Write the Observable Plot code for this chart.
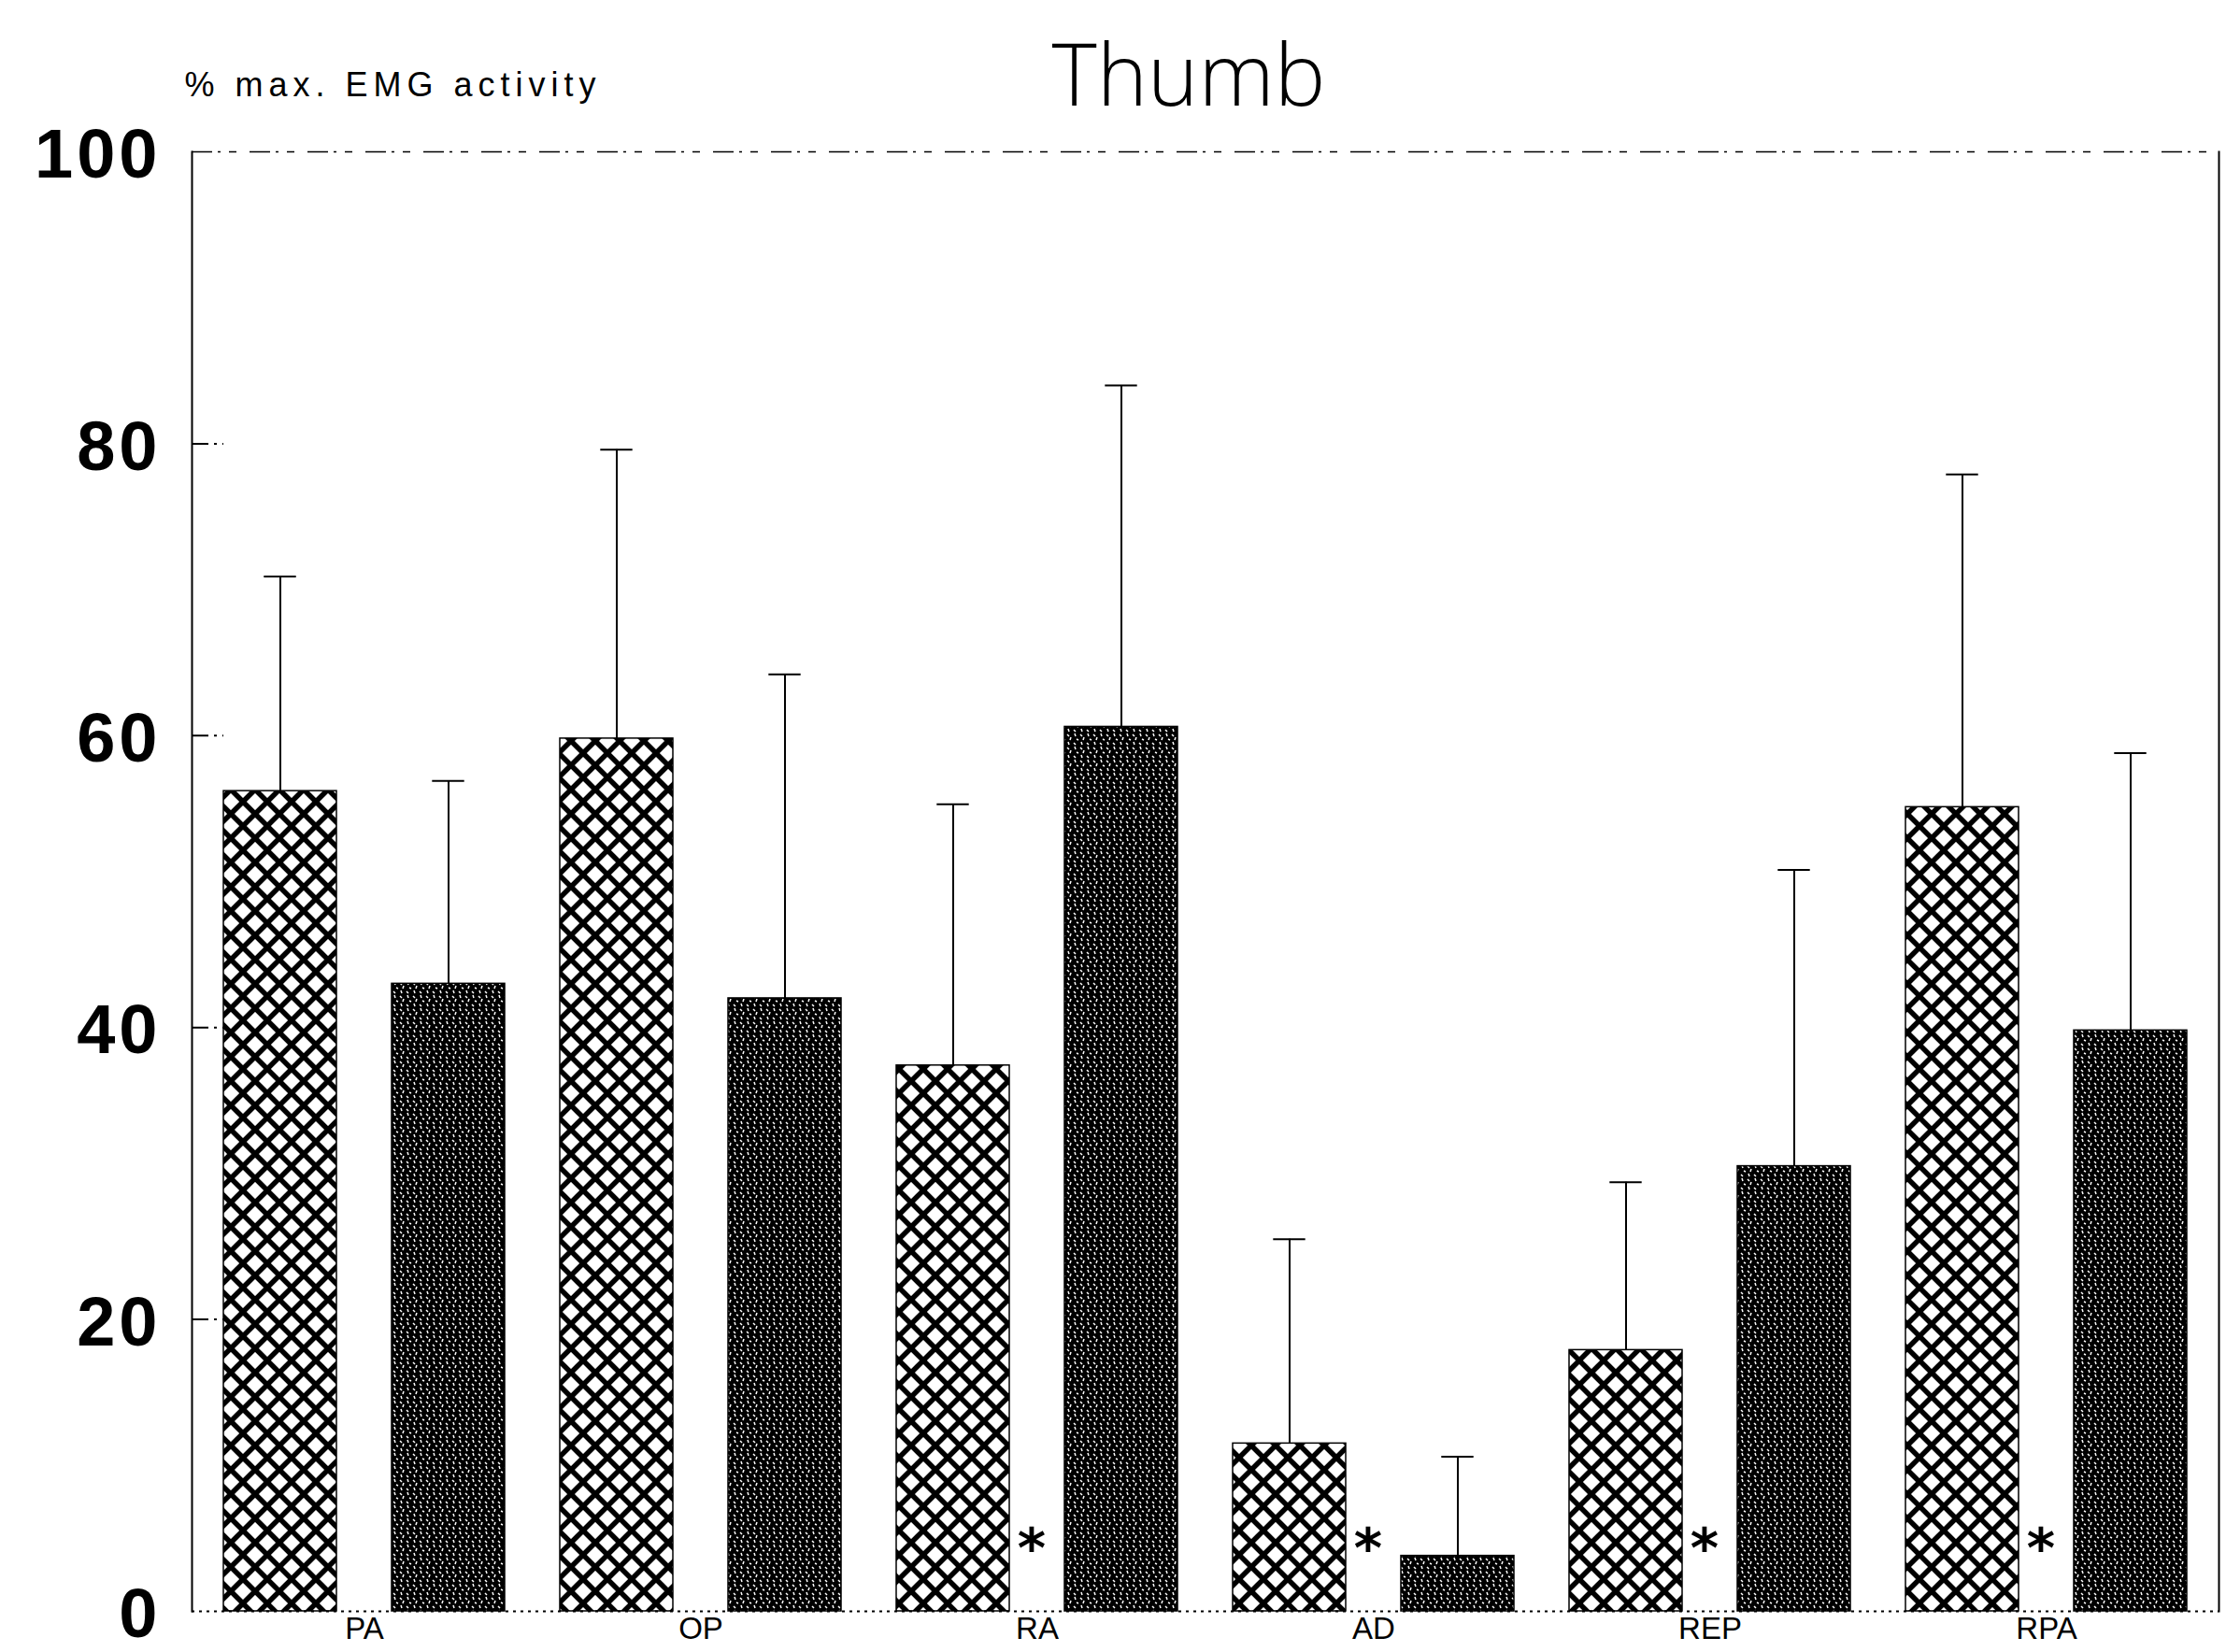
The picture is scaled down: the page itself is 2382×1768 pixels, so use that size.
<!DOCTYPE html>
<html><head><meta charset="utf-8">
<script src="https://cdn.jsdelivr.net/npm/d3@7"></script>
<script src="https://cdn.jsdelivr.net/npm/@observablehq/plot@0.6"></script>
<style>html,body{margin:0;padding:0;background:#fff;overflow:hidden}</style>
</head><body><div id="chart"></div>
<script>
const muscles = ["PA", "OP", "RA", "AD", "REP", "RPA"];
const conditions = ["light", "dark"];
const lightMean = [56.2, 59.8, 37.4, 11.5, 17.9, 55.1];
const lightSD   = [14.7, 19.8, 17.9, 14.0, 11.5, 22.8];
const darkMean  = [43.0, 42.0, 60.6, 3.8, 30.5, 39.8];
const darkSD    = [13.9, 22.2, 23.4, 6.8, 20.3, 19.0];
const significant = [false, false, true, true, true, true];
const yTicks = [0, 20, 40, 60, 80, 100];
const titleText = "Thumb";
const yLabelText = "% max. EMG activity";

const rows = [];
muscles.forEach((m, i) => {
  rows.push({muscle: m, cond: "light", key: m + "|light", mean: lightMean[i], top: lightMean[i] + lightSD[i], sig: significant[i]});
  rows.push({muscle: m, cond: "dark", key: m + "|dark", mean: darkMean[i], top: darkMean[i] + darkSD[i], sig: significant[i]});
});
const keys = rows.map(d => d.key);
const lightKeys = rows.filter(d => d.cond === "light").map(d => d.key);

const W = 2382, H = 1768, mL = 205, mR = 8, mT = 162, mB = 44;
const pI = 0.33, pO = 0.19;
const step = (W - mL - mR) / (keys.length - pI + 2 * pO);
const bw = step * (1 - pI);
const capHalf = 17;

const plot = Plot.plot({
  width: W, height: H,
  marginLeft: mL, marginRight: mR, marginTop: mT, marginBottom: mB,
  style: {fontFamily: "Liberation Sans, Arial, sans-serif", background: "#fff", color: "#000"},
  x: {type: "band", domain: keys, paddingInner: pI, paddingOuter: pO, align: 0.5, axis: null},
  y: {domain: [0, 100], axis: null},
  marks: [
    Plot.ruleY([100], {stroke: "#000", strokeWidth: 1.5, strokeDasharray: "22,6,3,9,8,14"}),
    Plot.frame({anchor: "left", stroke: "#000", strokeWidth: 2}),
    Plot.frame({anchor: "right", stroke: "#000", strokeWidth: 2}),
    Plot.tickY(yTicks.filter(v => v > 0 && v < 100), {y: d => d, insetRight: W - mL - mR - 34, stroke: "#000", strokeWidth: 2, strokeDasharray: "18,6,3,6"}),
    Plot.ruleX(rows, {x: "key", y1: "mean", y2: "top", stroke: "#000", strokeWidth: 2}),
    Plot.tickY(rows, {x: "key", y: "top", insetLeft: bw / 2 - capHalf, insetRight: bw / 2 - capHalf, stroke: "#000", strokeWidth: 2}),
    Plot.barY(rows.filter(d => d.cond === "light"), {x: "key", y: "mean", fill: "url(#hatchLight)", stroke: "#000", strokeWidth: 1.5}),
    Plot.barY(rows.filter(d => d.cond === "dark"), {x: "key", y: "mean", fill: "url(#hatchDark)", stroke: "#000", strokeWidth: 1.5}),
    Plot.ruleY([0], {stroke: "#000", strokeWidth: 2, strokeDasharray: "3,5"}),
    Plot.text(rows.filter(d => d.cond === "light" && d.sig), {x: "key", y: () => 5, text: () => "*", dx: step / 2 - 6, dy: 12, fontSize: 58, fontWeight: "bold", fontFamily: "DejaVu Sans", fill: "#000"}),
    Plot.axisY(yTicks, {tickSize: 0, tickPadding: 33, fontSize: 74, fontWeight: "bold", dy: 4, label: null}),
    Plot.axisX(lightKeys, {tickSize: 0, tickPadding: 6, tickFormat: k => k.split("|")[0], dx: step / 2, fontSize: 33, label: null}),
    Plot.text([titleText], {text: d => d, frameAnchor: "top", lineAnchor: "bottom", dy: -50, dx: -18, fontSize: 92, fontWeight: 300, fontFamily: "Open Sans", fill: "#000"}),
    Plot.text([yLabelText], {text: d => d, frameAnchor: "top-left", textAnchor: "start", lineAnchor: "bottom", dy: -60, dx: -8, fontSize: 36, fontFamily: "Liberation Sans", fill: "#000"})
  ]
});

const svg = d3.select(plot);
svg.insert("defs", ":first-child").html(
  '<pattern id="hatchLight" patternUnits="userSpaceOnUse" width="26" height="26">' +
  '<rect width="26" height="26" fill="#fff"/>' +
  '<path d="M-5,-5L31,31M31,-5L-5,31" stroke="#000" stroke-width="5.5" stroke-linecap="square"/>' +
  '</pattern>' +
  '<pattern id="hatchDark" patternUnits="userSpaceOnUse" width="14" height="14">' +
  '<rect width="14" height="14" fill="#000"/>' +
  '<path d="M2,1l1,3M8,2l2,2M12,5l-1,3M4,7l2,1M1,11l2,2M9,10l1,3" stroke="#fff" stroke-width="1.5"/>' +
  '</pattern>'
);
svg.selectAll("text").filter(function() { return this.textContent === yLabelText; }).style("letter-spacing", "6px");
svg.selectAll('g[aria-label="y-axis tick label"] text').style("letter-spacing", "4px");
document.getElementById("chart").appendChild(plot);
</script>
</body></html>
